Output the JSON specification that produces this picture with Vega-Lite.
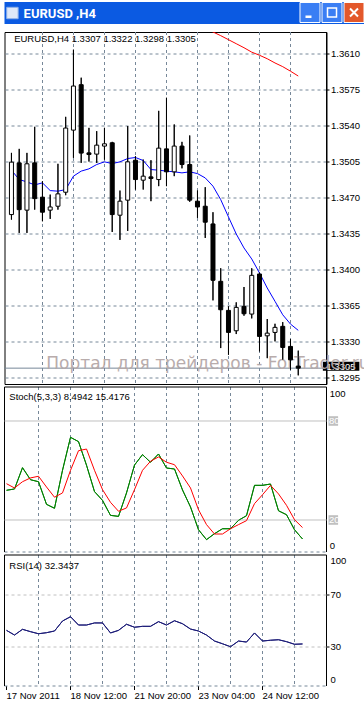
{
  "$schema": "https://vega.github.io/schema/vega-lite/v6.json",
  "background": "white",
  "padding": {"left": 3.5, "top": 0, "right": 0, "bottom": 0},
  "bounds": "flush",
  "align": "none",
  "spacing": 3,
  "config": {
    "view": {"stroke": null},
    "axis": {"labelFont": "Liberation Sans", "labelFontSize": 9.5, "labelColor": "black", "domainColor": "black", "tickColor": "black", "grid": false, "labels": false, "ticks": false, "domain": false, "labelOverlap": false, "labelSeparation": 0, "labelBound": false, "labelFlush": false},
    "text": {"font": "Liberation Sans", "fontSize": 9.5, "color": "black"}
  },
  "datasets": {
    "bars": [
      {"i":0,"t":"2011-11-17 04:00","open":1.34541,"high":1.35140,"low":1.34492,"close":1.35050,"ma":1.34972,"ma2":null,"k":38.0,"d":42.0,"rsi":42.8},
      {"i":1,"t":"2011-11-17 08:00","open":1.35043,"high":1.35179,"low":1.34363,"close":1.34589,"ma":1.34881,"ma2":null,"k":38.8,"d":39.4,"rsi":39.2},
      {"i":2,"t":"2011-11-17 12:00","open":1.34584,"high":1.35140,"low":1.34363,"close":1.35034,"ma":1.34858,"ma2":null,"k":51.7,"d":43.2,"rsi":43.6},
      {"i":3,"t":"2011-11-17 16:00","open":1.35043,"high":1.35393,"low":1.34589,"close":1.34696,"ma":1.34829,"ma2":null,"k":44.4,"d":45.5,"rsi":41.8},
      {"i":4,"t":"2011-11-17 20:00","open":1.34710,"high":1.34865,"low":1.34476,"close":1.34564,"ma":1.34849,"ma2":null,"k":43.2,"d":46.5,"rsi":40.2},
      {"i":5,"t":"2011-11-18 00:00","open":1.34584,"high":1.34735,"low":1.34499,"close":1.34615,"ma":1.34774,"ma2":null,"k":29.5,"d":40.0,"rsi":41.0},
      {"i":6,"t":"2011-11-18 04:00","open":1.34622,"high":1.35034,"low":1.34589,"close":1.34742,"ma":1.34768,"ma2":null,"k":27.1,"d":33.8,"rsi":42.3},
      {"i":7,"t":"2011-11-18 08:00","open":1.34758,"high":1.35490,"low":1.34729,"close":1.35381,"ma":1.34784,"ma2":null,"k":50.1,"d":36.4,"rsi":50.0},
      {"i":8,"t":"2011-11-18 12:00","open":1.35361,"high":1.36142,"low":1.35092,"close":1.35789,"ma":1.34914,"ma2":null,"k":70.1,"d":50.1,"rsi":53.3},
      {"i":9,"t":"2011-11-18 16:00","open":1.35802,"high":1.35870,"low":1.35043,"close":1.35138,"ma":1.34963,"ma2":null,"k":67.5,"d":62.0,"rsi":46.9},
      {"i":10,"t":"2011-11-18 20:00","open":1.35140,"high":1.35383,"low":1.35056,"close":1.35124,"ma":1.34985,"ma2":null,"k":53.2,"d":63.0,"rsi":46.9},
      {"i":11,"t":"2011-11-21 00:00","open":1.35128,"high":1.35351,"low":1.35043,"close":1.35215,"ma":1.35027,"ma2":null,"k":37.2,"d":50.1,"rsi":48.5},
      {"i":12,"t":"2011-11-21 04:00","open":1.35206,"high":1.35383,"low":1.35075,"close":1.35228,"ma":1.35053,"ma2":null,"k":31.9,"d":38.4,"rsi":48.5},
      {"i":13,"t":"2011-11-21 08:00","open":1.35238,"high":1.35247,"low":1.34372,"close":1.34541,"ma":1.35036,"ma2":null,"k":22.8,"d":30.7,"rsi":40.8},
      {"i":14,"t":"2011-11-21 12:00","open":1.34535,"high":1.34774,"low":1.34295,"close":1.34671,"ma":1.35053,"ma2":null,"k":22.2,"d":25.3,"rsi":42.8},
      {"i":15,"t":"2011-11-21 16:00","open":1.34681,"high":1.35400,"low":1.34382,"close":1.35053,"ma":1.35085,"ma2":null,"k":36.4,"d":27.3,"rsi":47.5},
      {"i":16,"t":"2011-11-21 20:00","open":1.35069,"high":1.35108,"low":1.34784,"close":1.34881,"ma":1.35095,"ma2":null,"k":53.3,"d":38.4,"rsi":45.2},
      {"i":17,"t":"2011-11-22 00:00","open":1.34875,"high":1.35075,"low":1.34784,"close":1.34914,"ma":1.35066,"ma2":null,"k":59.6,"d":50.1,"rsi":45.9},
      {"i":18,"t":"2011-11-22 04:00","open":1.34907,"high":1.35069,"low":1.34671,"close":1.34891,"ma":1.34978,"ma2":null,"k":55.0,"d":55.6,"rsi":45.9},
      {"i":19,"t":"2011-11-22 08:00","open":1.34881,"high":1.35548,"low":1.34817,"close":1.35186,"ma":1.34972,"ma2":null,"k":60.0,"d":58.2,"rsi":49.5},
      {"i":20,"t":"2011-11-22 12:00","open":1.35179,"high":1.35675,"low":1.34817,"close":1.34956,"ma":1.34963,"ma2":null,"k":51.5,"d":55.0,"rsi":46.9},
      {"i":21,"t":"2011-11-22 16:00","open":1.34956,"high":1.35416,"low":1.34914,"close":1.35206,"ma":1.34956,"ma2":null,"k":50.9,"d":53.5,"rsi":50.2},
      {"i":22,"t":"2011-11-22 20:00","open":1.35206,"high":1.35247,"low":1.34990,"close":1.35027,"ma":1.34946,"ma2":null,"k":38.2,"d":46.7,"rsi":47.9},
      {"i":23,"t":"2011-11-23 00:00","open":1.35027,"high":1.35309,"low":1.34665,"close":1.34681,"ma":1.34956,"ma2":null,"k":27.9,"d":39.4,"rsi":43.8},
      {"i":24,"t":"2011-11-23 04:00","open":1.34671,"high":1.34774,"low":1.34509,"close":1.34615,"ma":1.34939,"ma2":1.36390,"k":14.1,"d":26.2,"rsi":42.3},
      {"i":25,"t":"2011-11-23 08:00","open":1.34622,"high":1.34807,"low":1.34314,"close":1.34467,"ma":1.34897,"ma2":1.36350,"k":8.1,"d":17.2,"rsi":39.2},
      {"i":26,"t":"2011-11-23 12:00","open":1.34450,"high":1.34564,"low":1.33708,"close":1.33903,"ma":1.34817,"ma2":1.36314,"k":11.7,"d":11.5,"rsi":34.6},
      {"i":27,"t":"2011-11-23 16:00","open":1.33893,"high":1.34020,"low":1.33245,"close":1.33617,"ma":1.34686,"ma2":1.36278,"k":14.7,"d":11.5,"rsi":32.5},
      {"i":28,"t":"2011-11-23 20:00","open":1.33611,"high":1.33650,"low":1.33180,"close":1.33397,"ma":1.34518,"ma2":1.36239,"k":14.7,"d":14.7,"rsi":30.2},
      {"i":29,"t":"2011-11-24 00:00","open":1.33413,"high":1.33689,"low":1.33381,"close":1.33640,"ma":1.34353,"ma2":1.36200,"k":19.8,"d":17.2,"rsi":34.6},
      {"i":30,"t":"2011-11-24 04:00","open":1.33650,"high":1.33838,"low":1.33559,"close":1.33578,"ma":1.34217,"ma2":1.36161,"k":22.6,"d":19.6,"rsi":33.8},
      {"i":31,"t":"2011-11-24 08:00","open":1.33575,"high":1.34020,"low":1.33533,"close":1.33951,"ma":1.34110,"ma2":1.36118,"k":41.0,"d":29.9,"rsi":40.8},
      {"i":32,"t":"2011-11-24 12:00","open":1.33964,"high":1.33978,"low":1.33213,"close":1.33358,"ma":1.33974,"ma2":1.36088,"k":41.0,"d":35.3,"rsi":34.6},
      {"i":33,"t":"2011-11-24 16:00","open":1.33364,"high":1.33527,"low":1.33147,"close":1.33390,"ma":1.33828,"ma2":1.36054,"k":41.8,"d":41.0,"rsi":35.2},
      {"i":34,"t":"2011-11-24 20:00","open":1.33397,"high":1.33481,"low":1.33310,"close":1.33446,"ma":1.33699,"ma2":1.36013,"k":25.6,"d":35.8,"rsi":35.6},
      {"i":35,"t":"2011-11-25 00:00","open":1.33456,"high":1.33497,"low":1.33131,"close":1.33251,"ma":1.33568,"ma2":1.35977,"k":23.2,"d":28.9,"rsi":34.1},
      {"i":36,"t":"2011-11-25 04:00","open":1.33261,"high":1.33332,"low":1.33034,"close":1.33131,"ma":1.33478,"ma2":1.35933,"k":14.1,"d":20.2,"rsi":32.1},
      {"i":37,"t":"2011-11-25 08:00","open":1.3307,"high":1.3322,"low":1.3298,"close":1.3305,"ma":1.33417,"ma2":1.35886,"k":8.4942,"d":15.4176,"rsi":32.3437}
    ],
    "bid": [{"price": 1.3305}],
    "stochLevels": [{"level": 20}, {"level": 80}],
    "rsiLevels": [{"level": 30}, {"level": 70}]
  },
  "vconcat": [
    {
      "width": 360.5, "height": 22,
      "view": {"fill": "#0b5ae2", "stroke": null},
      "data": {"values": [{}]},
      "layer": [
        {"mark": {"type": "text", "text": "EURUSD ,H4", "font": "Roboto", "fontWeight": "bold", "fontSize": 13, "color": "white", "align": "left", "baseline": "alphabetic"},
         "encoding": {"x": {"datum": 0.053, "type": "quantitative", "scale": {"domain": [0, 1]}, "axis": null}, "y": {"datum": 0.273, "type": "quantitative", "scale": {"domain": [0, 1]}, "axis": null}}},
        {"mark": {"type": "point", "shape": "square", "size": 130, "filled": true, "fill": "#dfe8f8", "stroke": "#8fb0e8", "strokeWidth": 1, "opacity": 1},
         "encoding": {"x": {"datum": 0.022, "type": "quantitative", "scale": {"domain": [0, 1]}}, "y": {"datum": 0.5, "type": "quantitative", "scale": {"domain": [0, 1]}}}},
        {"mark": {"type": "point", "shape": "square", "size": 400, "filled": true, "fill": "#3a7ef4", "stroke": "white", "strokeWidth": 1, "opacity": 1},
         "encoding": {"x": {"datum": 0.8474, "type": "quantitative", "scale": {"domain": [0, 1]}}, "y": {"datum": 0.523, "type": "quantitative", "scale": {"domain": [0, 1]}}}},
        {"mark": {"type": "point", "shape": "square", "size": 400, "filled": true, "fill": "#3a7ef4", "stroke": "white", "strokeWidth": 1, "opacity": 1},
         "encoding": {"x": {"datum": 0.9085, "type": "quantitative", "scale": {"domain": [0, 1]}}, "y": {"datum": 0.523, "type": "quantitative", "scale": {"domain": [0, 1]}}}},
        {"mark": {"type": "point", "shape": "square", "size": 400, "filled": true, "fill": "#e3582b", "stroke": "white", "strokeWidth": 1, "opacity": 1},
         "encoding": {"x": {"datum": 0.9695, "type": "quantitative", "scale": {"domain": [0, 1]}}, "y": {"datum": 0.523, "type": "quantitative", "scale": {"domain": [0, 1]}}}},
        {"mark": {"type": "point", "shape": "M-0.45,0.3H0.15V0.55H-0.45Z", "size": 400, "filled": true, "fill": "white", "strokeWidth": 0, "opacity": 1},
         "encoding": {"x": {"datum": 0.8474, "type": "quantitative", "scale": {"domain": [0, 1]}}, "y": {"datum": 0.523, "type": "quantitative", "scale": {"domain": [0, 1]}}}},
        {"mark": {"type": "point", "shape": "M-0.45,-0.45H0.45V0.45H-0.45Z", "size": 400, "filled": false, "stroke": "white", "strokeWidth": 1.5, "opacity": 1},
         "encoding": {"x": {"datum": 0.9085, "type": "quantitative", "scale": {"domain": [0, 1]}}, "y": {"datum": 0.523, "type": "quantitative", "scale": {"domain": [0, 1]}}}},
        {"mark": {"type": "point", "shape": "M-0.4,-0.4L0.4,0.4M0.4,-0.4L-0.4,0.4", "size": 400, "filled": false, "stroke": "white", "strokeWidth": 2, "opacity": 1},
         "encoding": {"x": {"datum": 0.9695, "type": "quantitative", "scale": {"domain": [0, 1]}}, "y": {"datum": 0.523, "type": "quantitative", "scale": {"domain": [0, 1]}}}}
      ]
    },
    {
      "width": 360.5, "height": 1.5,
      "data": {"values": []},
      "mark": "point",
      "encoding": {}
    },
    {
      "width": 322, "height": 352,
      "view": {"stroke": "black", "strokeWidth": 1, "fill": "white"},
      "layer": [
        {"data": {"name": "bars"},
         "mark": {"type": "rule", "color": "black", "strokeWidth": 1},
         "encoding": {
           "x": {"field": "i", "type": "quantitative", "scale": {"domain": [-0.25, 40], "nice": false, "zero": false}, "title": null,
                 "axis": {"orient": "bottom", "values": [4, 8, 12, 16, 20, 24, 28, 32, 36], "tickCount": 40, "labels": false, "ticks": false, "domain": false, "grid": true, "gridColor": "#778899", "gridDash": [3, 3], "gridWidth": 1, "translate": 0, "title": null, "minExtent": 0, "maxExtent": 0}},
           "y": {"field": "low", "type": "quantitative", "scale": {"domain": [1.328961, 1.363136], "nice": false, "zero": false}, "title": null,
                 "axis": {"orient": "right", "values": [1.3295, 1.333, 1.3365, 1.34, 1.3435, 1.347, 1.3505, 1.354, 1.3575, 1.361], "tickCount": 40, "format": ".4f", "labels": true, "ticks": true, "tickSize": 3, "tickColor": "black", "labelPadding": 1.5, "domain": true, "domainColor": "black", "grid": true, "gridColor": "#778899", "gridDash": [3, 3], "gridWidth": 1, "translate": 0, "labelFlush": false, "labelOverlap": false, "labelSeparation": 0, "labelBound": false, "title": null}},
           "y2": {"field": "high"}
         }},
        {"data": {"name": "bid"},
         "mark": {"type": "rule", "color": "#778899", "strokeWidth": 1},
         "encoding": {"y": {"field": "price", "type": "quantitative", "scale": {"domain": [1.328961, 1.363136], "nice": false, "zero": false}, "title": null}}},
        {"data": {"name": "bid"},
         "mark": {"type": "point", "shape": "M-1,-0.356H1V0.148H-1Z", "size": 1332, "filled": true, "fill": "black", "strokeWidth": 0, "opacity": 1},
         "encoding": {"x": {"datum": 42.53, "type": "quantitative", "scale": {"domain": [-0.25, 40], "nice": false, "zero": false}, "title": null},
                      "y": {"field": "price", "type": "quantitative", "scale": {"domain": [1.328961, 1.363136], "nice": false, "zero": false}, "title": null}}},
        {"data": {"name": "bid"},
         "mark": {"type": "text", "color": "white", "align": "left", "baseline": "middle", "dy": -1.5},
         "encoding": {"x": {"datum": 40.65, "type": "quantitative", "scale": {"domain": [-0.25, 40], "nice": false, "zero": false}, "title": null},
                      "y": {"field": "price", "type": "quantitative", "scale": {"domain": [1.328961, 1.363136], "nice": false, "zero": false}, "title": null},
                      "text": {"field": "price", "type": "quantitative", "format": ".4f"}}},
        {"data": {"values": [{}]},
         "mark": {"type": "text", "text": "Портал для трейдеров - ForTrader.ru", "font": "DejaVu Sans", "fontSize": 17, "color": "#b5a8a8", "opacity": 0.95, "align": "left", "baseline": "alphabetic"},
         "encoding": {"x": {"datum": 4.5, "type": "quantitative", "scale": {"domain": [-0.25, 40], "nice": false, "zero": false}, "title": null},
                      "y": {"datum": 1.330418, "type": "quantitative", "scale": {"domain": [1.328961, 1.363136], "nice": false, "zero": false}, "title": null}}},
        {"data": {"name": "bars"},
         "mark": {"type": "line", "color": "#0000ff", "strokeWidth": 1, "clip": true},
         "encoding": {"x": {"field": "i", "type": "quantitative", "scale": {"domain": [-0.25, 40], "nice": false, "zero": false}, "title": null},
                      "y": {"field": "ma", "type": "quantitative", "scale": {"domain": [1.328961, 1.363136], "nice": false, "zero": false}, "title": null}}},
        {"data": {"name": "bars"},
         "mark": {"type": "line", "color": "#ff0000", "strokeWidth": 1, "clip": true},
         "encoding": {"x": {"field": "i", "type": "quantitative", "scale": {"domain": [-0.25, 40], "nice": false, "zero": false}, "title": null},
                      "y": {"field": "ma2", "type": "quantitative", "scale": {"domain": [1.328961, 1.363136], "nice": false, "zero": false}, "title": null}}},
        {"data": {"name": "bars"},
         "mark": {"type": "rule", "color": "black", "strokeWidth": 1},
         "encoding": {"x": {"field": "i", "type": "quantitative", "scale": {"domain": [-0.25, 40], "nice": false, "zero": false}, "title": null},
                      "y": {"field": "low", "type": "quantitative", "scale": {"domain": [1.328961, 1.363136], "nice": false, "zero": false}, "title": null},
                      "y2": {"field": "high"}}},
        {"data": {"name": "bars"},
         "mark": {"type": "bar", "size": 4, "stroke": "black", "strokeWidth": 1},
         "encoding": {"x": {"field": "i", "type": "quantitative", "scale": {"domain": [-0.25, 40], "nice": false, "zero": false}, "title": null},
                      "y": {"field": "open", "type": "quantitative", "scale": {"domain": [1.328961, 1.363136], "nice": false, "zero": false}, "title": null},
                      "y2": {"field": "close"},
                      "fill": {"condition": {"test": "datum.close >= datum.open", "value": "white"}, "value": "black"}}},
        {"data": {"values": [{}]},
         "mark": {"type": "text", "text": "EURUSD,H4  1.3307 1.3322 1.3298 1.3305", "align": "left", "baseline": "alphabetic"},
         "encoding": {"x": {"datum": 0.35, "type": "quantitative", "scale": {"domain": [-0.25, 40], "nice": false, "zero": false}, "title": null},
                      "y": {"datum": 1.362117, "type": "quantitative", "scale": {"domain": [1.328961, 1.363136], "nice": false, "zero": false}, "title": null}}}
      ]
    },
    {
      "width": 322, "height": 165,
      "view": {"stroke": null, "fill": "white"},
      "layer": [
        {"data": {"name": "bars"},
         "mark": {"type": "line", "color": "#008000", "strokeWidth": 1},
         "encoding": {
           "x": {"field": "i", "type": "quantitative", "scale": {"domain": [-0.25, 40], "nice": false, "zero": false}, "title": null,
                 "axis": {"orient": "bottom", "values": [4, 8, 12, 16, 20, 24, 28, 32, 36], "tickCount": 40, "labels": false, "ticks": false, "domain": true, "domainColor": "#778899", "domainDash": [3, 3], "grid": true, "gridColor": "#778899", "gridDash": [3, 3], "translate": 0, "title": null, "minExtent": 0, "maxExtent": 0}},
           "y": {"field": "k", "type": "quantitative", "scale": {"domain": [0.6, 100.6], "nice": false, "zero": false}, "title": null,
                 "axis": {"orient": "right", "values": [50], "tickCount": 40, "labels": false, "ticks": false, "domain": true, "domainColor": "black", "grid": false, "translate": 0, "title": null}}
         }},
        {"data": {"values": [{}]},
         "mark": {"type": "rule", "color": "black", "strokeWidth": 1},
         "encoding": {"x": {"datum": -0.25, "type": "quantitative", "scale": {"domain": [-0.25, 40], "nice": false, "zero": false}, "title": null}}},
        {"data": {"values": [{}]},
         "mark": {"type": "rule", "color": "black", "strokeWidth": 1},
         "encoding": {"y": {"datum": 100.6, "type": "quantitative", "scale": {"domain": [0.6, 100.6], "nice": false, "zero": false}, "title": null}}},
        {"data": {"name": "stochLevels"},
         "mark": {"type": "rule", "color": "#c0c0c0", "strokeWidth": 1},
         "encoding": {"y": {"field": "level", "type": "quantitative", "scale": {"domain": [0.6, 100.6], "nice": false, "zero": false}, "title": null}}},
        {"data": {"name": "stochLevels"},
         "mark": {"type": "point", "shape": "square", "size": 92, "filled": true, "fill": "#c0c0c0", "strokeWidth": 0, "opacity": 1},
         "encoding": {"x": {"datum": 40.85, "type": "quantitative", "scale": {"domain": [-0.25, 40], "nice": false, "zero": false}, "title": null},
                      "y": {"field": "level", "type": "quantitative", "scale": {"domain": [0.6, 100.6], "nice": false, "zero": false}, "title": null}}},
        {"data": {"name": "stochLevels"},
         "mark": {"type": "text", "color": "white", "align": "left", "baseline": "middle", "dy": 0.5},
         "encoding": {"x": {"datum": 40.3, "type": "quantitative", "scale": {"domain": [-0.25, 40], "nice": false, "zero": false}, "title": null},
                      "y": {"field": "level", "type": "quantitative", "scale": {"domain": [0.6, 100.6], "nice": false, "zero": false}, "title": null},
                      "text": {"field": "level", "type": "quantitative"}}},
        {"data": {"values": [{}]},
         "mark": {"type": "text", "text": "100", "align": "left", "baseline": "middle"},
         "encoding": {"x": {"datum": 40.4, "type": "quantitative", "scale": {"domain": [-0.25, 40], "nice": false, "zero": false}, "title": null},
                      "y": {"datum": 96.1, "type": "quantitative", "scale": {"domain": [0.6, 100.6], "nice": false, "zero": false}, "title": null}}},
        {"data": {"values": [{}]},
         "mark": {"type": "text", "text": "0", "align": "left", "baseline": "middle"},
         "encoding": {"x": {"datum": 40.4, "type": "quantitative", "scale": {"domain": [-0.25, 40], "nice": false, "zero": false}, "title": null},
                      "y": {"datum": 4.4, "type": "quantitative", "scale": {"domain": [0.6, 100.6], "nice": false, "zero": false}, "title": null}}},
        {"data": {"name": "bars"},
         "mark": {"type": "line", "color": "#008000", "strokeWidth": 1},
         "encoding": {"x": {"field": "i", "type": "quantitative", "scale": {"domain": [-0.25, 40], "nice": false, "zero": false}, "title": null},
                      "y": {"field": "k", "type": "quantitative", "scale": {"domain": [0.6, 100.6], "nice": false, "zero": false}, "title": null}}},
        {"data": {"name": "bars"},
         "mark": {"type": "line", "color": "#ff0000", "strokeWidth": 1},
         "encoding": {"x": {"field": "i", "type": "quantitative", "scale": {"domain": [-0.25, 40], "nice": false, "zero": false}, "title": null},
                      "y": {"field": "d", "type": "quantitative", "scale": {"domain": [0.6, 100.6], "nice": false, "zero": false}, "title": null}}},
        {"data": {"values": [{}]},
         "mark": {"type": "text", "text": "Stoch(5,3,3) 8.4942 15.4176", "align": "left", "baseline": "alphabetic"},
         "encoding": {"x": {"datum": 0.35, "type": "quantitative", "scale": {"domain": [-0.25, 40], "nice": false, "zero": false}, "title": null},
                      "y": {"datum": 92.84, "type": "quantitative", "scale": {"domain": [0.6, 100.6], "nice": false, "zero": false}, "title": null}}}
      ]
    },
    {
      "width": 322, "height": 131,
      "view": {"stroke": null, "fill": "white"},
      "layer": [
        {"data": {"name": "bars"},
         "mark": {"type": "line", "color": "#1c1c78", "strokeWidth": 1},
         "encoding": {
           "x": {"field": "i", "type": "quantitative", "scale": {"domain": [-0.25, 40], "nice": false, "zero": false}, "title": null,
                 "axis": {"orient": "bottom", "values": [0, 4, 8, 12, 16, 20, 24, 28, 32, 36], "tickCount": 40, "labelExpr": "datum.value == 0 ? '17 Nov 2011' : datum.value == 8 ? '18 Nov 12:00' : datum.value == 16 ? '21 Nov 20:00' : datum.value == 24 ? '23 Nov 04:00' : datum.value == 32 ? '24 Nov 12:00' : ''", "labels": true, "labelAlign": "left", "labelBaseline": "top", "labelPadding": 1, "labelFlush": false, "labelOverlap": false, "labelSeparation": 0, "labelBound": false, "ticks": true, "tickSize": 4, "tickColor": {"condition": {"test": "datum.value % 8 == 0", "value": "black"}, "value": "transparent"}, "domain": true, "domainColor": "#778899", "domainDash": [3, 3], "grid": true, "gridColor": {"condition": {"test": "datum.value == 0", "value": "transparent"}, "value": "#778899"}, "gridDash": [3, 3], "translate": 0, "title": null}},
           "y": {"field": "rsi", "type": "quantitative", "scale": {"domain": [0, 100.77], "nice": false, "zero": false}, "title": null,
                 "axis": {"orient": "right", "values": [4.8, 30, 70, 95.8], "tickCount": 40, "format": "d", "labelExpr": "datum.value > 90 ? '100' : (datum.value < 10 ? '0' : datum.label)", "labels": true, "ticks": true, "tickSize": 3, "tickColor": {"condition": {"test": "datum.value == 30 || datum.value == 70", "value": "black"}, "value": "transparent"}, "labelPadding": 1, "domain": true, "domainColor": "black", "grid": false, "translate": 0, "labelFlush": false, "labelOverlap": false, "labelSeparation": 0, "labelBound": false, "title": null}}
         }},
        {"data": {"values": [{}]},
         "mark": {"type": "rule", "color": "black", "strokeWidth": 1},
         "encoding": {"x": {"datum": -0.25, "type": "quantitative", "scale": {"domain": [-0.25, 40], "nice": false, "zero": false}, "title": null}}},
        {"data": {"values": [{}]},
         "mark": {"type": "rule", "color": "black", "strokeWidth": 1},
         "encoding": {"y": {"datum": 100.77, "type": "quantitative", "scale": {"domain": [0, 100.77], "nice": false, "zero": false}, "title": null}}},
        {"data": {"name": "rsiLevels"},
         "mark": {"type": "rule", "color": "#c0c0c0", "strokeWidth": 1, "strokeDash": [3, 3]},
         "encoding": {"y": {"field": "level", "type": "quantitative", "scale": {"domain": [0, 100.77], "nice": false, "zero": false}, "title": null}}},
        {"data": {"name": "bars"},
         "mark": {"type": "line", "color": "#1c1c78", "strokeWidth": 1},
         "encoding": {"x": {"field": "i", "type": "quantitative", "scale": {"domain": [-0.25, 40], "nice": false, "zero": false}, "title": null},
                      "y": {"field": "rsi", "type": "quantitative", "scale": {"domain": [0, 100.77], "nice": false, "zero": false}, "title": null}}},
        {"data": {"values": [{}]},
         "mark": {"type": "text", "text": "RSI(14) 32.3437", "align": "left", "baseline": "alphabetic"},
         "encoding": {"x": {"datum": 0.35, "type": "quantitative", "scale": {"domain": [-0.25, 40], "nice": false, "zero": false}, "title": null},
                      "y": {"datum": 90.15, "type": "quantitative", "scale": {"domain": [0, 100.77], "nice": false, "zero": false}, "title": null}}}
      ]
    }
  ]
}
